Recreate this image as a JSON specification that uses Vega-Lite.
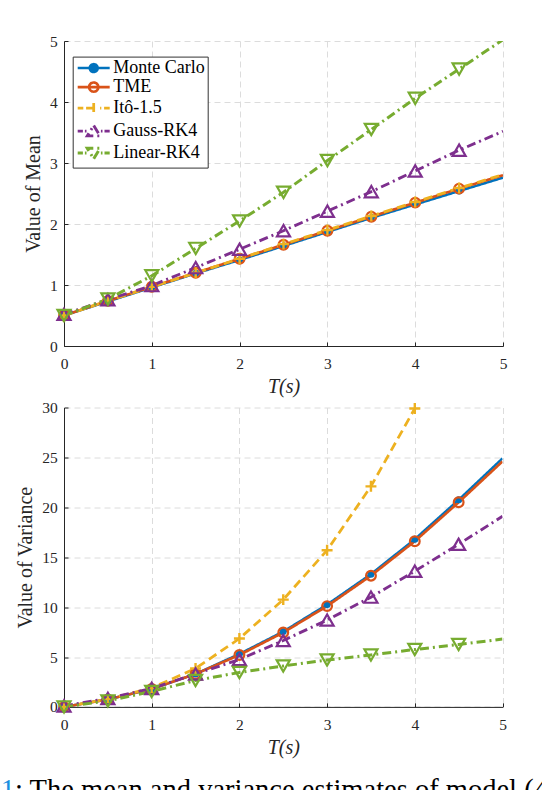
{
  "$schema": "https://vega.github.io/schema/vega-lite/v6.json",
  "background": "white",
  "padding": {"left": 0, "top": 34, "right": 0, "bottom": 0},
  "autosize": {"type": "pad"},
  "title": {
    "text": "1",
    "subtitle": "\u200b\u00a0\u00a0: The mean and variance estimates of model (4",
    "orient": "bottom",
    "anchor": "start",
    "dx": -14.5,
    "offset": 19,
    "font": "Liberation Serif",
    "fontSize": 28.5,
    "fontWeight": "normal",
    "color": "#1a8fe0",
    "subtitleFont": "Liberation Serif",
    "subtitleFontSize": 28.5,
    "subtitleColor": "#000000",
    "subtitlePadding": -28.5
  },
  "spacing": 0.5,
  "datasets": {
    "mean": [
      {"t": 0, "series": "Monte Carlo", "v": 0.5},
      {"t": 0.5, "series": "Monte Carlo", "v": 0.73},
      {"t": 1, "series": "Monte Carlo", "v": 0.96},
      {"t": 1.5, "series": "Monte Carlo", "v": 1.19},
      {"t": 2, "series": "Monte Carlo", "v": 1.41},
      {"t": 2.5, "series": "Monte Carlo", "v": 1.64},
      {"t": 3, "series": "Monte Carlo", "v": 1.87},
      {"t": 3.5, "series": "Monte Carlo", "v": 2.1},
      {"t": 4, "series": "Monte Carlo", "v": 2.32},
      {"t": 4.5, "series": "Monte Carlo", "v": 2.54},
      {"t": 5, "series": "Monte Carlo", "v": 2.76},
      {"t": 0, "series": "TME", "v": 0.5},
      {"t": 0.5, "series": "TME", "v": 0.74},
      {"t": 1, "series": "TME", "v": 0.97},
      {"t": 1.5, "series": "TME", "v": 1.2},
      {"t": 2, "series": "TME", "v": 1.43},
      {"t": 2.5, "series": "TME", "v": 1.66},
      {"t": 3, "series": "TME", "v": 1.89},
      {"t": 3.5, "series": "TME", "v": 2.12},
      {"t": 4, "series": "TME", "v": 2.35},
      {"t": 4.5, "series": "TME", "v": 2.58},
      {"t": 5, "series": "TME", "v": 2.8},
      {"t": 0, "series": "Itô-1.5", "v": 0.5},
      {"t": 0.5, "series": "Itô-1.5", "v": 0.74},
      {"t": 1, "series": "Itô-1.5", "v": 0.97},
      {"t": 1.5, "series": "Itô-1.5", "v": 1.2},
      {"t": 2, "series": "Itô-1.5", "v": 1.43},
      {"t": 2.5, "series": "Itô-1.5", "v": 1.67},
      {"t": 3, "series": "Itô-1.5", "v": 1.9},
      {"t": 3.5, "series": "Itô-1.5", "v": 2.13},
      {"t": 4, "series": "Itô-1.5", "v": 2.36},
      {"t": 4.5, "series": "Itô-1.5", "v": 2.59},
      {"t": 5, "series": "Itô-1.5", "v": 2.81},
      {"t": 0, "series": "Gauss-RK4", "v": 0.52},
      {"t": 0.5, "series": "Gauss-RK4", "v": 0.76},
      {"t": 1, "series": "Gauss-RK4", "v": 0.99},
      {"t": 1.5, "series": "Gauss-RK4", "v": 1.285},
      {"t": 2, "series": "Gauss-RK4", "v": 1.585},
      {"t": 2.5, "series": "Gauss-RK4", "v": 1.89},
      {"t": 3, "series": "Gauss-RK4", "v": 2.21},
      {"t": 3.5, "series": "Gauss-RK4", "v": 2.53},
      {"t": 4, "series": "Gauss-RK4", "v": 2.87},
      {"t": 4.5, "series": "Gauss-RK4", "v": 3.21},
      {"t": 5, "series": "Gauss-RK4", "v": 3.52},
      {"t": 0, "series": "Linear-RK4", "v": 0.5},
      {"t": 0.5, "series": "Linear-RK4", "v": 0.77},
      {"t": 1, "series": "Linear-RK4", "v": 1.15},
      {"t": 1.5, "series": "Linear-RK4", "v": 1.6},
      {"t": 2, "series": "Linear-RK4", "v": 2.05},
      {"t": 2.5, "series": "Linear-RK4", "v": 2.52},
      {"t": 3, "series": "Linear-RK4", "v": 3.04},
      {"t": 3.5, "series": "Linear-RK4", "v": 3.55},
      {"t": 4, "series": "Linear-RK4", "v": 4.06},
      {"t": 4.5, "series": "Linear-RK4", "v": 4.54},
      {"t": 5, "series": "Linear-RK4", "v": 5.02}
    ],
    "var": [
      {"t": 0, "series": "Monte Carlo", "v": 0},
      {"t": 0.5, "series": "Monte Carlo", "v": 0.75},
      {"t": 1, "series": "Monte Carlo", "v": 1.8},
      {"t": 1.5, "series": "Monte Carlo", "v": 3.3},
      {"t": 2, "series": "Monte Carlo", "v": 5.3},
      {"t": 2.5, "series": "Monte Carlo", "v": 7.55},
      {"t": 3, "series": "Monte Carlo", "v": 10.25},
      {"t": 3.5, "series": "Monte Carlo", "v": 13.3},
      {"t": 4, "series": "Monte Carlo", "v": 16.8},
      {"t": 4.5, "series": "Monte Carlo", "v": 20.75},
      {"t": 5, "series": "Monte Carlo", "v": 24.9},
      {"t": 0, "series": "TME", "v": 0},
      {"t": 0.5, "series": "TME", "v": 0.75},
      {"t": 1, "series": "TME", "v": 1.8},
      {"t": 1.5, "series": "TME", "v": 3.3},
      {"t": 2, "series": "TME", "v": 5.2},
      {"t": 2.5, "series": "TME", "v": 7.45},
      {"t": 3, "series": "TME", "v": 10.1},
      {"t": 3.5, "series": "TME", "v": 13.15},
      {"t": 4, "series": "TME", "v": 16.6},
      {"t": 4.5, "series": "TME", "v": 20.5},
      {"t": 5, "series": "TME", "v": 24.6},
      {"t": 0, "series": "Itô-1.5", "v": 0},
      {"t": 0.5, "series": "Itô-1.5", "v": 0.78},
      {"t": 1, "series": "Itô-1.5", "v": 1.9},
      {"t": 1.5, "series": "Itô-1.5", "v": 3.85},
      {"t": 2, "series": "Itô-1.5", "v": 6.85},
      {"t": 2.5, "series": "Itô-1.5", "v": 10.75},
      {"t": 3, "series": "Itô-1.5", "v": 15.7},
      {"t": 3.5, "series": "Itô-1.5", "v": 22.1},
      {"t": 4, "series": "Itô-1.5", "v": 29.9},
      {"t": 0, "series": "Gauss-RK4", "v": 0.1},
      {"t": 0.5, "series": "Gauss-RK4", "v": 0.85},
      {"t": 1, "series": "Gauss-RK4", "v": 1.85},
      {"t": 1.5, "series": "Gauss-RK4", "v": 3.3},
      {"t": 2, "series": "Gauss-RK4", "v": 4.75},
      {"t": 2.5, "series": "Gauss-RK4", "v": 6.65},
      {"t": 3, "series": "Gauss-RK4", "v": 8.7},
      {"t": 3.5, "series": "Gauss-RK4", "v": 11.0},
      {"t": 4, "series": "Gauss-RK4", "v": 13.6},
      {"t": 4.5, "series": "Gauss-RK4", "v": 16.3},
      {"t": 5, "series": "Gauss-RK4", "v": 19.1},
      {"t": 0, "series": "Linear-RK4", "v": 0},
      {"t": 0.5, "series": "Linear-RK4", "v": 0.6},
      {"t": 1, "series": "Linear-RK4", "v": 1.55},
      {"t": 1.5, "series": "Linear-RK4", "v": 2.65},
      {"t": 2, "series": "Linear-RK4", "v": 3.45},
      {"t": 2.5, "series": "Linear-RK4", "v": 4.1},
      {"t": 3, "series": "Linear-RK4", "v": 4.7},
      {"t": 3.5, "series": "Linear-RK4", "v": 5.2},
      {"t": 4, "series": "Linear-RK4", "v": 5.75},
      {"t": 4.5, "series": "Linear-RK4", "v": 6.25},
      {"t": 5, "series": "Linear-RK4", "v": 6.8}
    ]
  },
  "vconcat": [
    {
      "width": 439,
      "height": 305,
      "data": {"name": "mean"},
      "layer": [
        {
          "mark": {"type": "line", "clip": true},
          "encoding": {
            "x": {"field": "t", "type": "quantitative", "scale": {"domain": [0, 5], "nice": false}, "axis": {"values": [0, 1, 2, 3, 4, 5], "format": "d", "title": "T(s)", "titleFontStyle": "italic", "labelFlush": false}},
            "y": {"field": "v", "type": "quantitative", "scale": {"domain": [0, 5], "nice": false}, "axis": {"values": [0, 1, 2, 3, 4, 5], "format": "d", "title": "Value of Mean"}},
            "color": {"field": "series", "type": "nominal", "scale": {"domain": ["Monte Carlo", "TME", "Itô-1.5", "Gauss-RK4", "Linear-RK4"], "range": ["#0072BD", "#D95319", "#EDB120", "#7E2F8E", "#77AC30"]}, "legend": {"title": null, "orient": "none", "legendX": 8.7, "legendY": 15.6}},
            "strokeDash": {"field": "series", "type": "nominal", "scale": {"domain": ["Monte Carlo", "TME", "Itô-1.5", "Gauss-RK4", "Linear-RK4"], "range": [[1, 0], [1, 0], [9, 5], [9, 4, 2, 4], [9, 4, 2, 4]]}, "legend": null},
            "strokeWidth": {"field": "series", "type": "nominal", "scale": {"domain": ["Monte Carlo", "TME", "Itô-1.5", "Gauss-RK4", "Linear-RK4"], "range": [2.5, 3, 2.6, 2.6, 2.6]}, "legend": null}
          }
        },
        {
          "transform": [{"filter": "datum.series === 'Monte Carlo' && datum.t < 5"}],
          "mark": {"type": "point", "shape": "circle", "filled": true, "color": "#0072BD", "size": 50, "opacity": 1},
          "encoding": {"x": {"field": "t", "type": "quantitative"}, "y": {"field": "v", "type": "quantitative"}}
        },
        {
          "transform": [{"filter": "datum.series === 'TME' && datum.t < 5"}],
          "mark": {"type": "point", "shape": "circle", "filled": false, "color": "#D95319", "size": 95, "strokeWidth": 2.2, "opacity": 1},
          "encoding": {"x": {"field": "t", "type": "quantitative"}, "y": {"field": "v", "type": "quantitative"}}
        },
        {
          "transform": [{"filter": "datum.series === 'Itô-1.5' && datum.t < 5"}],
          "mark": {"type": "point", "shape": "M-1,0H1M0,-1V1", "filled": false, "color": "#EDB120", "size": 120, "strokeWidth": 2.4, "opacity": 1},
          "encoding": {"x": {"field": "t", "type": "quantitative"}, "y": {"field": "v", "type": "quantitative"}}
        },
        {
          "transform": [{"filter": "datum.series === 'Gauss-RK4' && datum.t < 5"}],
          "mark": {"type": "point", "shape": "triangle-up", "filled": false, "color": "#7E2F8E", "size": 170, "strokeWidth": 2.2, "opacity": 1},
          "encoding": {"x": {"field": "t", "type": "quantitative"}, "y": {"field": "v", "type": "quantitative"}}
        },
        {
          "transform": [{"filter": "datum.series === 'Linear-RK4' && datum.t < 5"}],
          "mark": {"type": "point", "shape": "triangle-down", "filled": false, "color": "#77AC30", "size": 170, "strokeWidth": 2.2, "opacity": 1},
          "encoding": {"x": {"field": "t", "type": "quantitative"}, "y": {"field": "v", "type": "quantitative"}}
        },
        {
          "transform": [{"filter": "datum.t < 0"}],
          "mark": {"type": "point", "filled": false, "size": 64, "strokeWidth": 2.5, "opacity": 1},
          "encoding": {
            "x": {"field": "t", "type": "quantitative"},
            "y": {"field": "v", "type": "quantitative"},
            "color": {"field": "series", "type": "nominal", "legend": {"title": null, "orient": "none", "legendX": 8.7, "legendY": 15.6}},
            "shape": {"field": "series", "type": "nominal", "scale": {"domain": ["Monte Carlo", "TME", "Itô-1.5", "Gauss-RK4", "Linear-RK4"], "range": ["M-4,0H4M1,0A1,1,0,1,1,-1,0A1,1,0,1,1,1,0Z", "M-4,0H4M1.15,0A1.15,1.15,0,1,1,-1.15,0A1.15,1.15,0,1,1,1.15,0Z", "M-4,0H-2.6M-1.9,0H1.9M0,-1.3V1.3M2.6,0H4", "M-4,0H-2.7M-2.2,0H-1.8M1.8,0H2.2M2.7,0H4M0,-1.4L1.6,1.2L-1.6,1.2Z", "M-4,0H-2.7M-2.2,0H-1.8M1.8,0H2.2M2.7,0H4M0,1.4L1.6,-1.2L-1.6,-1.2Z"]}, "legend": {"title": null, "orient": "none", "legendX": 8.7, "legendY": 15.6}},
            "fill": {"field": "series", "type": "nominal", "scale": {"domain": ["Monte Carlo", "TME", "Itô-1.5", "Gauss-RK4", "Linear-RK4"], "range": ["#0072BD", "transparent", "transparent", "transparent", "transparent"]}, "legend": {"title": null, "orient": "none", "legendX": 8.7, "legendY": 15.6}}
          }
        }
      ]
    },
    {
      "width": 438.5,
      "height": 299.4,
      "data": {"name": "var"},
      "layer": [
        {
          "mark": {"type": "line", "clip": true},
          "encoding": {
            "x": {"field": "t", "type": "quantitative", "scale": {"domain": [0, 5], "nice": false}, "axis": {"values": [0, 1, 2, 3, 4, 5], "format": "d", "title": "T(s)", "titleFontStyle": "italic", "labelFlush": false}},
            "y": {"field": "v", "type": "quantitative", "scale": {"domain": [0, 30], "nice": false}, "axis": {"values": [0, 5, 10, 15, 20, 25, 30], "format": "d", "title": "Value of Variance"}},
            "color": {"field": "series", "type": "nominal", "scale": {"domain": ["Monte Carlo", "TME", "Itô-1.5", "Gauss-RK4", "Linear-RK4"], "range": ["#0072BD", "#D95319", "#EDB120", "#7E2F8E", "#77AC30"]}, "legend": {"title": null, "orient": "none", "legendX": 27, "legendY": 26.7}},
            "strokeDash": {"field": "series", "type": "nominal", "scale": {"domain": ["Monte Carlo", "TME", "Itô-1.5", "Gauss-RK4", "Linear-RK4"], "range": [[1, 0], [1, 0], [9, 5], [9, 4, 2, 4], [9, 4, 2, 4]]}, "legend": null},
            "strokeWidth": {"field": "series", "type": "nominal", "scale": {"domain": ["Monte Carlo", "TME", "Itô-1.5", "Gauss-RK4", "Linear-RK4"], "range": [2.5, 3, 2.6, 2.6, 2.6]}, "legend": null}
          }
        },
        {
          "transform": [{"filter": "datum.series === 'Monte Carlo' && datum.t < 5"}],
          "mark": {"type": "point", "shape": "circle", "filled": true, "color": "#0072BD", "size": 50, "opacity": 1},
          "encoding": {"x": {"field": "t", "type": "quantitative"}, "y": {"field": "v", "type": "quantitative"}}
        },
        {
          "transform": [{"filter": "datum.series === 'TME' && datum.t < 5"}],
          "mark": {"type": "point", "shape": "circle", "filled": false, "color": "#D95319", "size": 95, "strokeWidth": 2.2, "opacity": 1},
          "encoding": {"x": {"field": "t", "type": "quantitative"}, "y": {"field": "v", "type": "quantitative"}}
        },
        {
          "transform": [{"filter": "datum.series === 'Itô-1.5' && datum.t < 5"}],
          "mark": {"type": "point", "shape": "M-1,0H1M0,-1V1", "filled": false, "color": "#EDB120", "size": 120, "strokeWidth": 2.4, "opacity": 1},
          "encoding": {"x": {"field": "t", "type": "quantitative"}, "y": {"field": "v", "type": "quantitative"}}
        },
        {
          "transform": [{"filter": "datum.series === 'Gauss-RK4' && datum.t < 5"}],
          "mark": {"type": "point", "shape": "triangle-up", "filled": false, "color": "#7E2F8E", "size": 170, "strokeWidth": 2.2, "opacity": 1},
          "encoding": {"x": {"field": "t", "type": "quantitative"}, "y": {"field": "v", "type": "quantitative"}}
        },
        {
          "transform": [{"filter": "datum.series === 'Linear-RK4' && datum.t < 5"}],
          "mark": {"type": "point", "shape": "triangle-down", "filled": false, "color": "#77AC30", "size": 170, "strokeWidth": 2.2, "opacity": 1},
          "encoding": {"x": {"field": "t", "type": "quantitative"}, "y": {"field": "v", "type": "quantitative"}}
        },
        {
          "transform": [{"filter": "datum.t < 0"}],
          "mark": {"type": "point", "filled": false, "size": 64, "strokeWidth": 2.5, "opacity": 1},
          "encoding": {
            "x": {"field": "t", "type": "quantitative"},
            "y": {"field": "v", "type": "quantitative"},
            "color": {"field": "series", "type": "nominal", "legend": {"title": null, "orient": "none", "legendX": 27, "legendY": 26.7}},
            "shape": {"field": "series", "type": "nominal", "scale": {"domain": ["Monte Carlo", "TME", "Itô-1.5", "Gauss-RK4", "Linear-RK4"], "range": ["M-4,0H4M1,0A1,1,0,1,1,-1,0A1,1,0,1,1,1,0Z", "M-4,0H4M1.15,0A1.15,1.15,0,1,1,-1.15,0A1.15,1.15,0,1,1,1.15,0Z", "M-4,0H-2.6M-1.9,0H1.9M0,-1.3V1.3M2.6,0H4", "M-4,0H-2.7M-2.2,0H-1.8M1.8,0H2.2M2.7,0H4M0,-1.4L1.6,1.2L-1.6,1.2Z", "M-4,0H-2.7M-2.2,0H-1.8M1.8,0H2.2M2.7,0H4M0,1.4L1.6,-1.2L-1.6,-1.2Z"]}, "legend": {"title": null, "orient": "none", "legendX": 27, "legendY": 26.7}},
            "fill": {"field": "series", "type": "nominal", "scale": {"domain": ["Monte Carlo", "TME", "Itô-1.5", "Gauss-RK4", "Linear-RK4"], "range": ["#0072BD", "transparent", "transparent", "transparent", "transparent"]}, "legend": {"title": null, "orient": "none", "legendX": 27, "legendY": 26.7}}
          }
        }
      ]
    }
  ],
  "config": {
    "view": {"stroke": null},
    "font": "Liberation Serif",
    "axis": {
      "domainColor": "#262626",
      "domainWidth": 1,
      "tickColor": "#262626",
      "tickSize": -4,
      "tickWidth": 1,
      "grid": true,
      "gridColor": "#dcdcdc",
      "gridDash": [6, 4],
      "gridWidth": 1,
      "labelFont": "Liberation Serif",
      "labelFontSize": 15.5,
      "labelColor": "#262626",
      "labelPadding": 10.7,
      "titleFont": "Liberation Serif",
      "titleFontSize": 20,
      "titleFontWeight": "normal",
      "titleColor": "#262626",
      "titlePadding": 6.5
    },
    "axisX": {"labelPadding": 14.7, "titlePadding": 4},
    "legend": {
      "padding": 2.5,
      "fillColor": "white",
      "strokeColor": "#333333",
      "symbolSize": 64,
      "symbolOffset": 9.5,
      "symbolStrokeWidth": 2.5,
      "labelOffset": 10.5,
      "labelFont": "Liberation Serif",
      "labelFontSize": 18,
      "labelColor": "#000000",
      "labelLimit": 300,
      "rowPadding": 0
    }
  }
}
